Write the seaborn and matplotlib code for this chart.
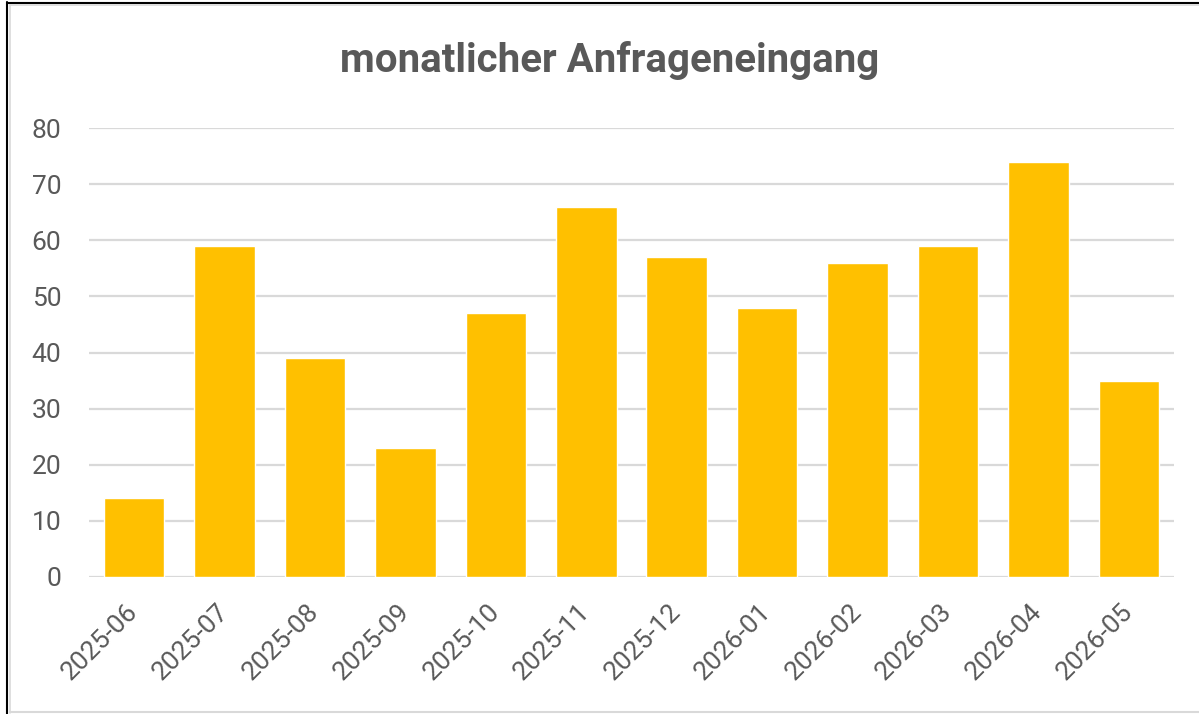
import matplotlib
matplotlib.use("Agg")
import matplotlib.pyplot as plt
from matplotlib.lines import Line2D
import seaborn as sns
import pandas as pd

months = ["2025-06", "2025-07", "2025-08", "2025-09", "2025-10", "2025-11",
          "2025-12", "2026-01", "2026-02", "2026-03", "2026-04", "2026-05"]
counts = [14, 59, 39, 23, 47, 66, 57, 48, 56, 59, 74, 35]
title = "monatlicher Anfrageneingang"

df = pd.DataFrame({"Monat": months, "Anzahl": counts})

sns.set_theme(style="white")
plt.rcParams["font.family"] = ["Roboto", "DejaVu Sans"]

W, H = 1199, 714
fig = plt.figure(figsize=(W / 100, H / 100), dpi=100)
ax = fig.add_axes([89 / W, 1 - 577 / H, (1174 - 89) / W, (577 - 128) / H])

sns.barplot(data=df, x="Monat", y="Anzahl", color="#FFC000", width=0.67,
            saturation=1, ax=ax, zorder=3)

ax.set_ylim(0, 80)
ax.set_xlim(-0.5, len(months) - 0.5)
ax.set_yticks(range(0, 81, 10))
ax.yaxis.grid(True, color="#d9d9d9", linewidth=1.6, zorder=0)
ax.set_axisbelow(True)
for s in ax.spines.values():
    s.set_visible(False)
ax.axhline(0, color="#d9d9d9", linewidth=1.8, zorder=2)
ax.set_xlabel("")
ax.set_ylabel("")
ax.tick_params(axis="both", length=0, colors="#595959", labelsize=19)
ax.tick_params(axis="y", pad=20)
ax.tick_params(axis="x", pad=22)
for lab in ax.get_xticklabels():
    lab.set_rotation(45)
    lab.set_ha("right")
    lab.set_va("center")
    lab.set_rotation_mode("anchor")

fig.text(610 / W, 1 - 60 / H, title, ha="center", va="center",
         fontsize=29, fontweight="bold", color="#595959")

# frame
fig.add_artist(Line2D([7 / W, 7 / W], [0, 1 - 2 / H], color="black", lw=1.5))
fig.add_artist(Line2D([7 / W, 1], [1 - 2.5 / H, 1 - 2.5 / H], color="black", lw=1.5))
fig.add_artist(Line2D([10 / W, 10 / W], [1 / H, 1 - 5 / H], color="#d9d9d9", lw=1.2))
fig.add_artist(Line2D([10 / W, 1], [1 - 5 / H, 1 - 5 / H], color="#d9d9d9", lw=1.2))
fig.add_artist(Line2D([10 / W, 1], [2.5 / H, 2.5 / H], color="#d9d9d9", lw=1.5))

fig.savefig("out.png", dpi=100)
